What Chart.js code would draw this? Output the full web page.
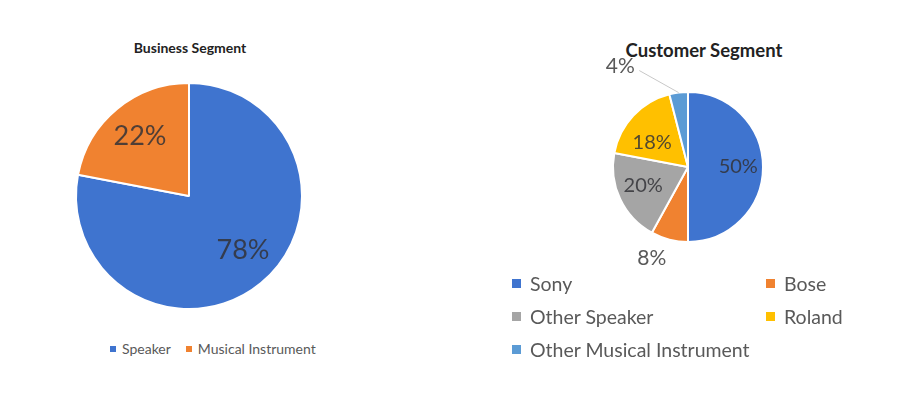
<!DOCTYPE html>
<html>
<head>
<meta charset="utf-8">
<script src="https://cdn.jsdelivr.net/npm/chart.js@4.4.0/dist/chart.umd.min.js"></script>
<style>
  body { margin: 0; width: 900px; height: 395px; background: #fff; position: relative; overflow: hidden; font-family: Lato, "Open Sans", sans-serif; }
  canvas { position: absolute; }
  .title { position: absolute; font-weight: bold; color: #222; white-space: nowrap; transform: translate(-50%, -50%); }
  .legend-left { position: absolute; left: 110px; top: 340px; display: flex; align-items: center; font-size: 14px; color: #595959; }
  .legend-left .item { display: flex; align-items: center; margin-right: 15px; }
  .legend-left .box { width: 6px; height: 6px; margin-right: 6px; }
  .legend-right { position: absolute; left: 512px; top: 267px; display: grid; grid-template-columns: 254px auto; grid-auto-rows: 33px; font-size: 19.5px; color: #595959; }
  .legend-right .item { display: flex; align-items: center; }
  .legend-right .box { width: 9px; height: 9px; margin-right: 9px; }
</style>
</head>
<body>
<div class="title" style="left:190px; top:47px; font-size:14px;">Business Segment</div>
<div class="title" style="left:704px; top:50px; font-size:18.5px;">Customer Segment</div>
<canvas id="business" width="300" height="270" style="left:40px; top:60px;"></canvas>
<canvas id="customer" width="300" height="240" style="left:540px; top:40px;"></canvas>
<div class="legend-left" id="legend-business"></div>
<div class="legend-right" id="legend-customer"></div>
<script>
const business_labels = ["Speaker", "Musical Instrument"]
const business_values = [78, 22]
const business_colors = ["#3F74CF", "#F08230"]

const customer_labels = ["Sony", "Bose", "Other Speaker", "Roland", "Other Musical Instrument"]
const customer_values = [50, 8, 20, 18, 4]
const customer_colors = ["#3F74CF", "#F08230", "#A5A5A5", "#FFC000", "#5B9BD5"]

// draws the percent labels on (or next to) each slice
const sliceLabels = {
    id: 'sliceLabels',
    afterDatasetsDraw(chart, args, opts) {
        const ctx = chart.ctx;
        const meta = chart.getDatasetMeta(0);
        const values = chart.data.datasets[0].data;
        const total = values.reduce((a, b) => a + b, 0);
        meta.data.forEach((arc, i) => {
            const p = arc.getProps(['x', 'y', 'startAngle', 'endAngle', 'outerRadius'], true);
            const mid = (p.startAngle + p.endAngle) / 2;
            const f = opts.radius[i];
            const off = opts.offset[i];
            const lx = p.x + Math.cos(mid) * p.outerRadius * f + off[0];
            const ly = p.y + Math.sin(mid) * p.outerRadius * f + off[1];
            ctx.save();
            if (opts.leader && opts.leader[i]) {
                ctx.strokeStyle = '#c8c8c8';
                ctx.lineWidth = 1;
                ctx.beginPath();
                ctx.moveTo(lx + 19, ly + 4);
                ctx.lineTo(p.x + Math.cos(mid) * p.outerRadius, p.y + Math.sin(mid) * p.outerRadius);
                ctx.stroke();
            }
            ctx.font = opts.size[i] + 'px Lato, "Open Sans", sans-serif';
            ctx.fillStyle = f > 1 ? '#595959' : 'rgba(50,50,55,0.85)';
            ctx.textAlign = 'center';
            ctx.textBaseline = 'middle';
            ctx.fillText(Math.round(values[i] / total * 100) + '%', lx, ly);
            ctx.restore();
        });
    }
};

function makeLegend(el, labels, colors) {
    for (let i = 0; i < labels.length; i++) {
        let item = document.createElement('div');
        item.className = 'item';
        let box = document.createElement('span');
        box.className = 'box';
        box.style.background = colors[i];
        let txt = document.createElement('span');
        txt.textContent = labels[i];
        item.appendChild(box);
        item.appendChild(txt);
        el.appendChild(item);
    }
}

const business_chart = new Chart(document.getElementById('business'), {
    type: 'pie',
    data: {
        labels: business_labels,
        datasets: [{
            data: business_values,
            backgroundColor: business_colors,
            borderColor: '#fff',
            borderWidth: 2
        }]
    },
    options: {
        responsive: false,
        animation: false,
        layout: { padding: { left: 35, right: 37, top: 22, bottom: 20 } },
        plugins: {
            legend: { display: false },
            tooltip: { enabled: false },
            sliceLabels: {
                radius: [0.68, 0.68],
                offset: [[5, -5], [0, 0]],
                size: [27, 27]
            }
        }
    },
    plugins: [sliceLabels]
});

const customer_chart = new Chart(document.getElementById('customer'), {
    type: 'pie',
    data: {
        labels: customer_labels,
        datasets: [{
            data: customer_values,
            backgroundColor: customer_colors,
            borderColor: '#fff',
            borderWidth: 2
        }]
    },
    options: {
        responsive: false,
        animation: false,
        layout: { padding: { left: 72, right: 76, top: 51, bottom: 37 } },
        plugins: {
            legend: { display: false },
            tooltip: { enabled: false },
            sliceLabels: {
                radius: [0.67, 1.3, 0.66, 0.6, 1.35],
                offset: [[0, 0], [-12, -3], [0, -3], [-3, 6], [-55, 0]],
                size: [20, 21, 20, 20, 21],
                leader: [false, false, false, false, true]
            }
        }
    },
    plugins: [sliceLabels]
});

makeLegend(document.getElementById('legend-business'), business_labels, business_colors);
makeLegend(document.getElementById('legend-customer'), customer_labels, customer_colors);
</script>
</body>
</html>
